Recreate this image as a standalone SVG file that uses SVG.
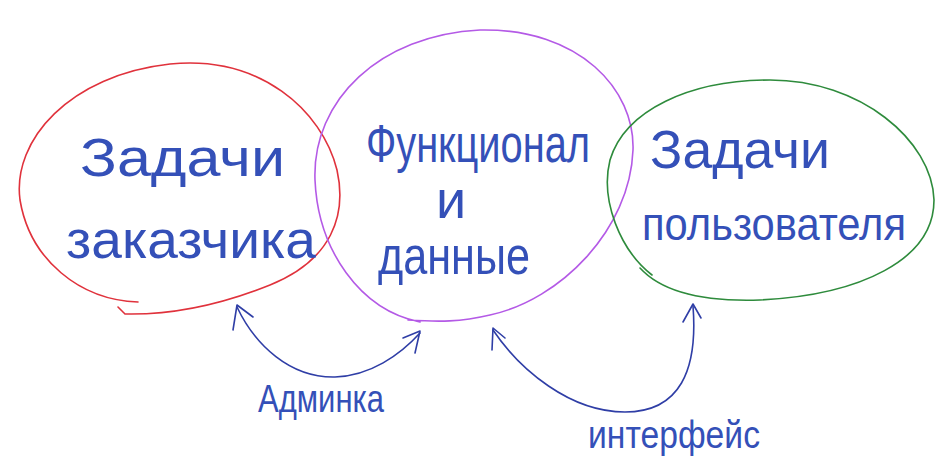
<svg xmlns="http://www.w3.org/2000/svg" width="952" height="465" viewBox="0 0 952 465">
<style>
.ring{fill:none;stroke-width:1.6;stroke-linecap:round;stroke-linejoin:round}
.conn{fill:none;stroke:#2f3ea6;stroke-width:1.6;stroke-linecap:round;stroke-linejoin:round}
.t{font-family:"Liberation Sans","DejaVu Sans",sans-serif;fill:#3450b8;font-size:54px;font-weight:normal}
.lbl{font-family:"Liberation Sans","DejaVu Sans",sans-serif;fill:#3450b8;font-size:38px}
</style>
<rect width="952" height="465" fill="#ffffff"/>
<g id="node-customer">
<path class="ring" stroke="#e0323c" d="M138 302 C80 300 30 260 20 200 C12 140 70 75 170 64 C260 55 322 110 337 170 C347 215 332 260 270 285 C220 305 170 315 125 314 L118 307"/>
<text class="t" x="80" y="176" textLength="205" lengthAdjust="spacingAndGlyphs">Задачи</text>
<text class="t" x="66" y="258" textLength="250" lengthAdjust="spacingAndGlyphs">заказчика</text>
</g>
<g id="node-core">
<path class="ring" stroke="#b45ae6" d="M420 322 C360 310 318 250 315 180 C312 100 380 35 480 30 C580 28 635 90 633 150 C630 230 560 300 490 315 C460 322 440 322 408 320"/>
<text class="t" x="366" y="162" textLength="224" lengthAdjust="spacingAndGlyphs">Функционал</text>
<text class="t" x="436" y="218">и</text>
<text class="t" x="378" y="274" textLength="152" lengthAdjust="spacingAndGlyphs">данные</text>
</g>
<g id="node-user">
<path class="ring" stroke="#2e8b3c" d="M652 275 C620 250 600 200 610 160 C625 110 690 80 770 80 C860 80 932 140 934 200 C934 260 860 295 760 300 C700 302 660 290 640 268"/>
<text class="t" x="650" y="168" textLength="180" lengthAdjust="spacingAndGlyphs">Задачи</text>
<text class="t" x="642" y="240" style="font-size:46px" textLength="264" lengthAdjust="spacingAndGlyphs">пользователя</text>
</g>
<g id="connectors">
<path class="conn" d="M237 307 C255 345 290 378 335 377 C370 376 400 355 420 333"/>
<path class="conn" d="M233 330 L237 305 L253 317"/>
<path class="conn" d="M403 338 L420 331 L415 353"/>
<path class="conn" d="M493 330 C520 370 570 412 625 412 C680 412 698 370 693 306"/>
<path class="conn" d="M492 350 L493 328 L505 338"/>
<path class="conn" d="M683 322 L693 304 L701 318"/>
</g>
<g id="labels">
<text class="lbl" x="258" y="412" textLength="126" lengthAdjust="spacingAndGlyphs">Админка</text>
<text class="lbl" x="588" y="448" textLength="172" lengthAdjust="spacingAndGlyphs">интерфейс</text>
</g>
</svg>
